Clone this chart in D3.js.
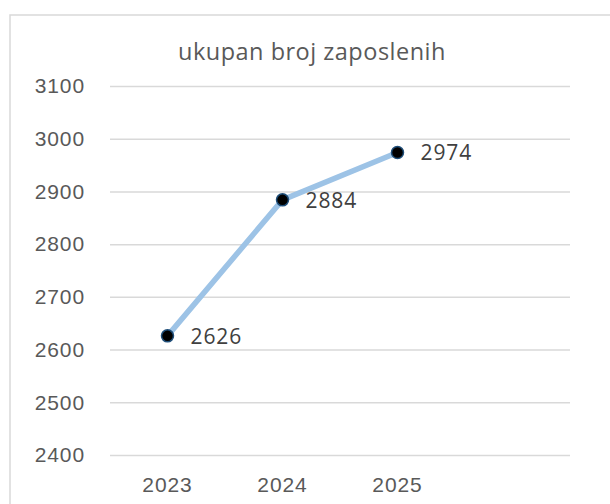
<!DOCTYPE html>
<html>
<head>
<meta charset="utf-8">
<script src="https://cdn.jsdelivr.net/npm/d3@7"></script>
<style>
  body { margin: 0; background: #fff; }
  svg { display: block; font-family: "Open Sans", Roboto, sans-serif; }
</style>
</head>
<body>
<svg id="chart" width="610" height="504"></svg>
<script>
const title = "ukupan broj zaposlenih";
const categories = ["2023", "2024", "2025"];
const values = [2626, 2884, 2974];
const yTicks = [2400, 2500, 2600, 2700, 2800, 2900, 3000, 3100];

const svg = d3.select("#chart");
const width = 610, height = 504;
const margin = { left: 110, right: 40, top: 86, bottom: 49 };

// chart frame, cut off at the right and bottom edge like the screenshot
svg.append("rect")
  .attr("x", 10).attr("y", 15)
  .attr("width", 640).attr("height", 540)
  .attr("fill", "#fff")
  .attr("stroke", "#d9d9d9")
  .attr("stroke-width", 1.5);

// one empty slot after the last year, as in the original
const x = d3.scaleBand()
  .domain([...categories, ""])
  .range([margin.left, width - margin.right]);

const y = d3.scaleLinear()
  .domain([2400, 3100])
  .range([height - margin.bottom, margin.top]);

svg.append("text")
  .attr("x", 312).attr("y", 60)
  .attr("text-anchor", "middle")
  .attr("fill", "#595959")
  .style("font-size", "23.5px")
  .style("letter-spacing", "0.5px")
  .text(title);

const yAxis = svg.append("g")
  .attr("transform", `translate(${margin.left},0)`)
  .call(d3.axisLeft(y).tickValues(yTicks).tickFormat(d3.format("d"))
    .tickSize(-(width - margin.left - margin.right)).tickPadding(25));
yAxis.select(".domain").remove();
yAxis.selectAll(".tick line").attr("stroke", "#d9d9d9").attr("stroke-width", 1.5);
yAxis.selectAll(".tick text")
  .attr("fill", "#595959")
  .style("font-size", "21px")
  .style("letter-spacing", "0.9px");

const xAxis = svg.append("g")
  .attr("transform", `translate(0,${height - margin.bottom})`)
  .call(d3.axisBottom(x).tickSize(0).tickPadding(22));
xAxis.select(".domain").remove();
xAxis.selectAll(".tick text")
  .attr("fill", "#595959")
  .style("font-size", "21px")
  .style("letter-spacing", "0.9px");

const pts = categories.map((c, i) => ({ c, v: values[i] }));
const cx = d => x(d.c) + x.bandwidth() / 2;

svg.append("path")
  .datum(pts)
  .attr("fill", "none")
  .attr("stroke", "#9dc3e6")
  .attr("stroke-width", 5.5)
  .attr("stroke-linejoin", "round")
  .attr("d", d3.line().x(cx).y(d => y(d.v)));

svg.selectAll("circle.pt")
  .data(pts)
  .join("circle")
  .attr("class", "pt")
  .attr("cx", cx)
  .attr("cy", d => y(d.v))
  .attr("r", 6)
  .attr("fill", "#000")
  .attr("stroke", "#1f4e79")
  .attr("stroke-width", 1.5);

svg.selectAll("text.lbl")
  .data(pts)
  .join("text")
  .attr("class", "lbl")
  .attr("x", d => cx(d) + 23)
  .attr("y", d => y(d.v) + 8)
  .attr("fill", "#404040")
  .style("font-size", "21px")
  .style("letter-spacing", "0.9px")
  .text(d => d.v);
</script>
</body>
</html>
